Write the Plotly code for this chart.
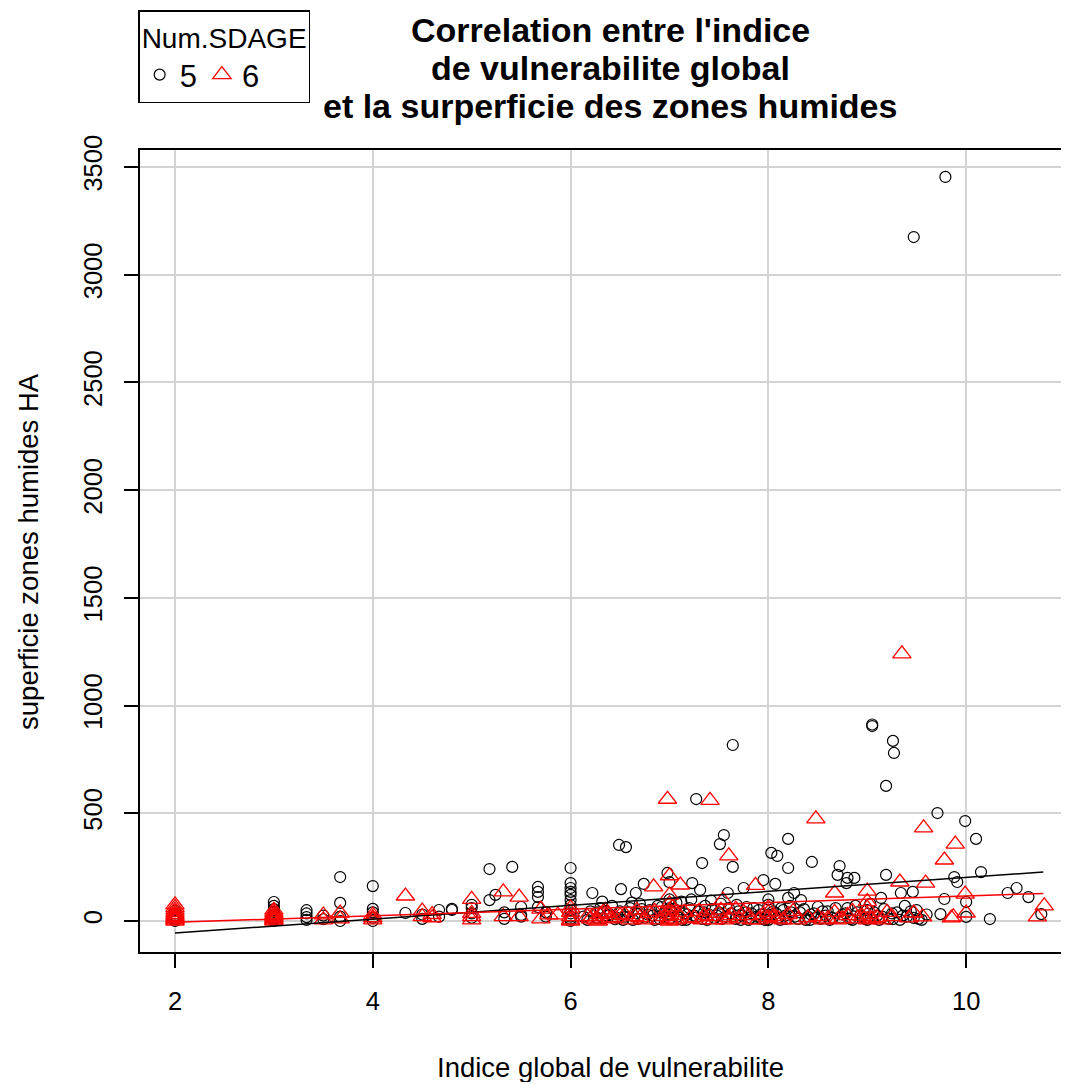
import plotly.graph_objects as go

# Num.SDAGE = 5 (black circles)
sdage5_x = [
    2, 2, 2, 2, 2, 2,
    3, 3, 3, 3, 3, 3, 3, 3, 3,
    3.33, 3.33, 3.33, 3.33, 3.5, 3.5,
    3.67, 3.67, 3.67, 3.67, 4, 4, 4, 4, 4,
    4.33, 4.5, 4.5, 4.67, 4.67, 4.8, 4.8,
    5, 5, 5, 5, 5.18, 5.18, 5.24, 5.33, 5.33, 5.41,
    5.5, 5.5, 5.5, 5.67, 5.67, 5.67, 5.67, 5.75, 5.75,
    6, 6, 6, 6, 6, 6, 6, 6, 6, 6, 6, 6,
    6.13, 6.17, 6.22, 6.27, 6.27, 6.32, 6.33, 6.4, 6.45, 6.49, 6.5, 6.51,
    6.55, 6.56, 6.6, 6.63, 6.66, 6.67, 6.7, 6.74, 6.75, 6.8, 6.83, 6.88,
    6.9, 6.95, 6.98, 7, 7, 7, 7, 7, 7.05, 7.08, 7.12, 7.15, 7.17, 7.2,
    7.23, 7.25, 7.27, 7.29, 7.31, 7.33, 7.33, 7.36, 7.4, 7.43, 7.45, 7.5,
    7.51, 7.52, 7.55, 7.57, 7.59, 7.6, 7.64, 7.64, 7.67, 7.7, 7.73, 7.75,
    7.78, 7.8, 7.83, 7.88, 7.9, 7.93, 7.95, 8, 8, 8, 8, 8.03, 8.05, 8.07,
    8.09, 8.1, 8.13, 8.17, 8.2, 8.2, 8.2, 8.23, 8.26, 8.3, 8.33, 8.36, 8.4,
    8.42, 8.44, 8.46, 8.5, 8.53, 8.58, 8.6, 8.65, 8.7, 8.72, 8.75, 8.79,
    8.8, 8.8, 8.83, 8.87, 8.9, 8.95, 9, 9, 9.03, 9.05, 9.05, 9.1, 9.14,
    9.17, 9.19, 9.19, 9.22, 9.26, 9.26, 9.27, 9.3, 9.34, 9.38, 9.4, 9.46,
    9.47, 9.47, 9.5, 9.55, 9.6, 9.71, 9.74, 9.78, 9.79, 9.88, 9.91, 9.99,
    10, 10, 10.1, 10.15, 10.24, 10.42, 10.51, 10.63, 10.76,
    6.2, 6.3, 6.37, 6.42, 6.47, 6.53, 6.58, 6.62, 6.68, 6.72, 6.78, 6.85,
    6.92, 7.02, 7.07, 7.13, 7.18, 7.22, 7.27, 7.35, 7.38, 7.42, 7.48, 7.53,
    7.62, 7.68, 7.72, 7.77, 7.82, 7.85, 7.92, 7.97, 8.02, 8.08, 8.12, 8.15,
    8.18, 8.22, 8.27, 8.32, 8.38, 8.43, 8.48, 8.55, 8.62, 8.68, 8.73, 8.78,
    8.85, 8.88, 8.93, 8.98, 9.07, 9.12, 9.15, 9.25, 9.33, 9.36, 9.44, 9.52,
]
sdage5_y = [
    0, 8, 15, 25, 35, 48,
    0, 6, 12, 20, 30, 42, 55, 70, 88,
    5, 18, 35, 50, 8, 25,
    0, 20, 84, 204, 0, 15, 40, 56, 162,
    37, 10, 30, 20, 51, 51, 56,
    15, 35, 60, 75, 97, 241, 121, 10, 40, 251,
    20, 28, 65, 65, 111, 135, 158, 20, 40,
    0, 10, 20, 35, 51, 74, 97, 121, 135, 153, 176, 246,
    20, 5, 130, 15, 40, 90, 12, 30, 8, 353, 45, 148,
    20, 343, 60, 5, 130, 35, 80, 172, 15, 50, 25, 70,
    10, 40, 223, 180, 100, 60, 30, 10, 55, 20, 90, 35, 5, 60,
    176, 25, 566, 45, 144, 269, 10, 70, 30, 55, 15, 40,
    357, 80, 399, 20, 130, 60, 251, 817, 10, 45, 25, 153,
    65, 5, 35, 20, 50, 10, 190, 5, 30, 75, 100, 316, 45, 172,
    302, 15, 60, 25, 381, 246, 107, 40, 130, 10, 97, 55, 20,
    5, 274, 35, 65, 10, 25, 45, 15, 214, 255, 30, 176,
    200, 60, 10, 200, 40, 20, 5, 50, 80, 905, 912, 25, 107,
    55, 214, 627, 10, 836, 9, 780, 40, 130, 70, 20, 135,
    3175, 14, 50, 5, 30, 501, 32, 102, 3454, 204, 181, 464,
    19, 88, 381, 227, 9, 130, 153, 111, 32,
    45, 60, 25, 70, 15, 5, 40, 85, 10, 55, 30, 5,
    65, 45, 85, 5, 30, 100, 15, 40, 5, 95, 25, 10,
    35, 75, 5, 40, 15, 60, 30, 5, 20, 35, 5, 50,
    10, 70, 20, 40, 5, 30, 15, 45, 5, 60, 15, 35,
    5, 70, 25, 10, 40, 5, 20, 35, 5, 25, 45, 10,
]

# Num.SDAGE = 6 (red triangles)
sdage6_x = [
    2, 2, 2, 2, 2, 2, 2, 2, 2, 2,
    3, 3, 3, 3, 3, 3, 3, 3,
    3.5, 3.5, 3.67, 3.67, 4, 4, 4, 4.33, 4.5, 4.5, 4.6, 4.6,
    5, 5, 5, 5, 5.32, 5.32, 5.48, 5.48, 5.7, 5.7, 5.78, 5.87,
    6, 6, 6, 6, 6, 6.17, 6.2, 6.25, 6.3, 6.33, 6.35, 6.4, 6.5, 6.6,
    6.67, 6.7, 6.8, 6.84, 6.9, 6.98, 7, 7, 7, 7, 7, 7, 7, 7.1, 7.11,
    7.2, 7.3, 7.33, 7.4, 7.41, 7.5, 7.54, 7.55, 7.6, 7.6, 7.67, 7.7,
    7.8, 7.87, 7.9, 8, 8, 8, 8.1, 8.2, 8.3, 8.48, 8.5, 8.6, 8.67, 8.67,
    8.7, 8.8, 8.9, 9, 9, 9, 9, 9, 9.1, 9.2, 9.33, 9.35, 9.42, 9.47,
    9.56, 9.57, 9.59, 9.78, 9.85, 9.87, 9.89, 9.99, 10, 10.72, 10.79,
    6.22, 6.28, 6.38, 6.45, 6.55, 6.65, 6.75, 6.85, 6.95, 7.03, 7.07,
    7.15, 7.25, 7.35, 7.45, 7.52, 7.63, 7.75, 7.83, 7.95, 8.05, 8.15,
    8.25, 8.4, 8.55, 8.75, 8.85, 8.95, 9.05, 9.15, 9.25,
]
sdage6_y = [
    0, 5, 10, 15, 22, 30, 40, 50, 62, 75,
    0, 5, 10, 15, 22, 30, 40, 50,
    5, 28, 10, 37, 5, 15, 28, 116, 20, 46, 15, 30,
    5, 20, 35, 100, 20, 135, 20, 111, 55, 10, 28, 28,
    0, 5, 20, 40, 60, 20, 10, 5, 30, 40, 50, 10, 25, 5,
    50, 15, 35, 158, 5, 565, 210, 120, 80, 50, 30, 10, 0, 25, 167,
    10, 45, 5, 20, 560, 35, 97, 5, 15, 302, 55, 10,
    25, 165, 5, 15, 40, 60, 10, 30, 5, 474, 20, 10, 40, 130,
    5, 25, 10, 5, 30, 60, 90, 139, 15, 40, 181, 1240, 14, 37,
    19, 432, 176, 283, 14, 19, 357, 125, 37, 19, 70,
    20, 0, 35, 15, 30, 20, 5, 45, 20, 65, 5,
    40, 15, 25, 5, 50, 25, 40, 5, 30, 20, 5,
    45, 15, 5, 10, 45, 20, 10, 5, 20,
]

# regression lines (ends of each line)
fit_x = [2, 10.78]
fit5_y = [-56, 227]
fit6_y = [-6, 128]

x_ticks = [2, 4, 6, 8, 10]
y_ticks = [0, 500, 1000, 1500, 2000, 2500, 3000, 3500]

FONT = "Liberation Sans, Arial, sans-serif"

fig = go.Figure()
fig.add_trace(go.Scatter(
    x=sdage5_x, y=sdage5_y, mode="markers", name="5",
    marker=dict(symbol="circle-open", size=11, color="black", line=dict(width=1.2)),
))
fig.add_trace(go.Scatter(
    x=sdage6_x, y=sdage6_y, mode="markers", name="6",
    marker=dict(symbol="triangle-up-open", size=16, color="red", line=dict(width=1.3)),
))
fig.add_trace(go.Scatter(x=fit_x, y=fit5_y, mode="lines", line=dict(color="black", width=1.5), showlegend=False))
fig.add_trace(go.Scatter(x=fit_x, y=fit6_y, mode="lines", line=dict(color="red", width=1.5), showlegend=False))

title_lines = ["Correlation entre l'indice", "de vulnerabilite global", "et la surperficie des zones humides"]
title_y = [1.1496, 1.1022, 1.0549]
for txt, ty in zip(title_lines, title_y):
    fig.add_annotation(text=f"<b>{txt}</b>", x=6.4, xref="x", y=ty, yref="paper",
                       showarrow=False, font=dict(size=34, color="black", family=FONT),
                       xanchor="center", yanchor="middle")

fig.add_annotation(text="Indice global de vulnerabilite", x=6.4, xref="x", y=-0.1446, yref="paper",
                   showarrow=False, font=dict(size=27.5, color="black", family=FONT),
                   xanchor="center", yanchor="middle")
fig.add_annotation(text="superficie zones humides HA", x=-0.1206, xref="paper", y=0.5, yref="paper",
                   textangle=-90, showarrow=False, font=dict(size=27.5, color="black", family=FONT),
                   xanchor="center", yanchor="middle")

axis_common = dict(
    showgrid=True, gridcolor="#D3D3D3", gridwidth=1.5, zeroline=False,
    showline=True, linecolor="black", linewidth=1.8,
    ticks="outside", ticklen=14, tickwidth=1.5, tickcolor="black",
    tickfont=dict(size=25.5, color="black", family=FONT),
)
fig.update_xaxes(range=[1.646, 11.04], tickvals=x_ticks, mirror=True, ticklabelstandoff=11, **axis_common)
fig.update_yaxes(range=[-144, 3579], tickvals=y_ticks, tickangle=-90, ticklabelstandoff=12, **axis_common)

# page body adds an 8px margin, so the figure is a little smaller than the window
fig.update_layout(
    width=1061, height=1074,
    margin=dict(l=132, r=0, t=142, b=130),
    plot_bgcolor="white", paper_bgcolor="white",
    font=dict(family=FONT, color="black"),
    legend=dict(
        orientation="h", x=-0.002, y=1.1745, xanchor="left", yanchor="top",
        bordercolor="black", borderwidth=1.5, bgcolor="white",
        font=dict(size=31, family=FONT),
        title=dict(text="Num.SDAGE", side="top", font=dict(size=28, family=FONT)),
    ),
)

fig.write_html("out.html")
